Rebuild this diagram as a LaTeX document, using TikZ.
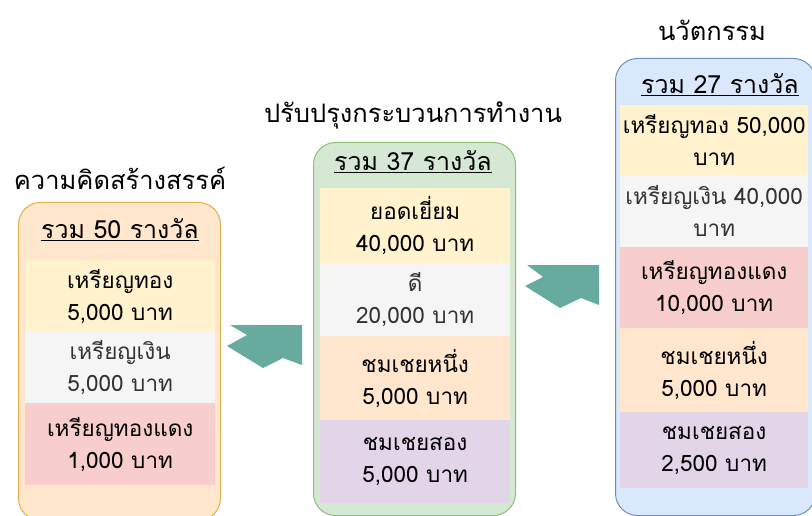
\documentclass[tikz,border=0pt]{standalone}
\usepackage{fontspec}
\usepackage{xcolor}
\usepackage{tikz}
\usetikzlibrary{positioning}
\newfontfamily\thaifont[Script=Thai]{Loma}
\definecolor{goldfill}{HTML}{FFF2CC}
\definecolor{silverfill}{HTML}{F5F5F5}
\definecolor{bronzefill}{HTML}{F8CECC}
\definecolor{orangefill}{HTML}{FFE6CC}
\definecolor{purplefill}{HTML}{E1D5E7}
\definecolor{greenfill}{HTML}{D5E8D4}
\definecolor{bluefill}{HTML}{DAE8FC}
\definecolor{orangeline}{HTML}{DDB04A}
\definecolor{greenline}{HTML}{8CBF74}
\definecolor{blueline}{HTML}{6C8EBF}
\definecolor{arrowteal}{HTML}{67AB9F}
\definecolor{greytext}{HTML}{333333}

\begin{document}
\begin{tikzpicture}[x=1pt, y=-1pt,
    heading/.style={font=\thaifont\fontsize{25.5}{28}\selectfont, inner sep=0pt},
    panel/.style={rectangle, rounded corners=22pt, line width=1pt, anchor=north west, inner sep=0pt},
    total/.style={font=\thaifont\fontsize{25}{28}\selectfont, inner sep=0pt},
    prize/.style={rectangle, inner sep=0pt, align=center, anchor=north west,
        font=\thaifont\fontsize{22.5}{32}\selectfont},
    bigarrow/.style={fill=arrowteal, draw=none}]
    \useasboundingbox (0,0) rectangle (812,516);

    % headings
    \node[heading] (headcre) at (120,178) {ความคิดสร้างสรรค์};
    \node[heading] (headpro) at (413,115) {ปรับปรุงกระบวนการทำงาน};
    \node[heading] (headinn) at (712,30) {นวัตกรรม};

    % panels
    \node[panel, draw=orangeline, fill=orangefill, minimum width=202pt, minimum height=318pt] (cre) at (18,202) {};
    \node[panel, draw=greenline, fill=greenfill, minimum width=202pt, minimum height=373pt] (pro) at (313,142) {};
    \node[panel, draw=blueline, fill=bluefill, minimum width=200pt, minimum height=457pt] (inn) at (615,58) {};

    \node[total] (crett) at (120,230) {\underline{รวม 50 รางวัล}};
    \node[total] (prott) at (413,162) {\underline{รวม 37 รางวัล}};
    \node[total] (innt) at (720,85) {\underline{รวม 27 รางวัล}};

    % creativity
    \node[prize, fill=goldfill, minimum width=190pt, minimum height=72pt] (cre1) at (25,260) {เหรียญทอง\\5,000 บาท};
    \node[prize, fill=silverfill, text=greytext, minimum width=190pt, minimum height=71pt] (cre2) at (25,332) {เหรียญเงิน\\5,000 บาท};
    \node[prize, fill=bronzefill, minimum width=190pt, minimum height=82pt] (cre3) at (25,403) {เหรียญทองแดง\\1,000 บาท};

    % process improvement
    \node[prize, fill=goldfill, minimum width=190pt, minimum height=75pt] (pro1) at (320,188) {ยอดเยี่ยม\\40,000 บาท};
    \node[prize, fill=silverfill, text=greytext, minimum width=190pt, minimum height=73pt] (pro2) at (320,263) {ดี\\20,000 บาท};
    \node[prize, fill=orangefill, minimum width=190pt, minimum height=84pt] (pro3) at (320,336) {ชมเชยหนึ่ง\\5,000 บาท};
    \node[prize, fill=purplefill, minimum width=190pt, minimum height=83pt] (pro4) at (320,420) {ชมเชยสอง\\5,000 บาท};

    % innovation
    \node[prize, fill=goldfill, minimum width=188pt, minimum height=70pt] (inn1) at (620,105) {เหรียญทอง 50,000\\บาท};
    \node[prize, fill=silverfill, text=greytext, minimum width=188pt, minimum height=72pt] (inn2) at (620,175) {เหรียญเงิน 40,000\\บาท};
    \node[prize, fill=bronzefill, minimum width=188pt, minimum height=81pt] (inn3) at (620,247) {เหรียญทองแดง\\10,000 บาท};
    \node[prize, fill=orangefill, minimum width=188pt, minimum height=84pt] (inn4) at (620,328) {ชมเชยหนึ่ง\\5,000 บาท};
    \node[prize, fill=purplefill, minimum width=188pt, minimum height=76pt] (inn5) at (620,412) {ชมเชยสอง\\2,500 บาท};

    % arrows
    \fill[bigarrow] (230,325) -- (302,325) -- (302,365) -- (283,358) -- (263,368) -- (227,346) -- (247,335) -- cycle;
    \fill[bigarrow] (527,265) -- (599,265) -- (599,305) -- (581,298) -- (560,308) -- (525,286) -- (543,277) -- cycle;
\end{tikzpicture}
\end{document}
